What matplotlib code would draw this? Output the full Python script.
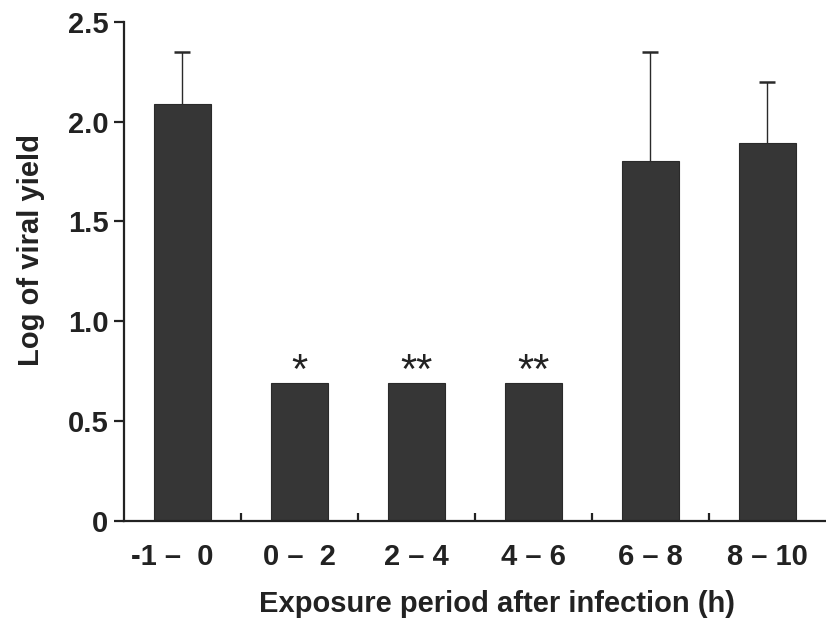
import matplotlib
matplotlib.use('Agg')
from matplotlib import pyplot as plt
from matplotlib.transforms import ScaledTranslation
import numpy as np

# data
periods = ['-1 \u2013  0', '0 \u2013  2', '2 \u2013 4', '4 \u2013 6', '6 \u2013 8', '8 \u2013 10']
log_yield = [2.09, 0.69, 0.69, 0.69, 1.80, 1.89]
err_upper = [0.26, 0.0, 0.0, 0.0, 0.55, 0.31]
marks = ['', '*', '**', '**', '', '']

plt.rcParams['font.family'] = ['Liberation Sans', 'DejaVu Sans']

fig = plt.figure(figsize=(8.26, 6.2), dpi=100)
ax = fig.add_axes([0.150, 0.160, 0.850, 0.805])

x = np.arange(len(periods))
ax.bar(x, log_yield, width=0.49, color='#363636', edgecolor='#2a2a2a', linewidth=0.8, zorder=2)

# upper error bars only
has_err = [i for i in x if err_upper[i] > 0]
eb = ax.errorbar([x[i] for i in has_err], [log_yield[i] for i in has_err],
                 yerr=[[0] * len(has_err), [err_upper[i] for i in has_err]],
                 fmt='none', ecolor='#2a2a2a', elinewidth=1.0, capsize=5.5, capthick=1.8, zorder=1)
eb[1][0].set_visible(False)

for i, m in enumerate(marks):
    if m:
        ax.text(x[i], log_yield[i] - 0.045, m, ha='center', va='bottom', fontsize=30,
                color='#222222')

ax.set_xlim(-0.5, 5.5)
ax.set_ylim(0, 2.5)
ax.set_yticks([0, 0.5, 1.0, 1.5, 2.0, 2.5])
ax.set_yticklabels(['0', '0.5', '1.0', '1.5', '2.0', '2.5'])
ax.set_xticks(x)
ax.set_xticklabels(periods)
ax.set_xticks(x[:-1] + 0.5, minor=True)

for s in ['top', 'right']:
    ax.spines[s].set_visible(False)
for s in ['left', 'bottom']:
    ax.spines[s].set_linewidth(1.6)
    ax.spines[s].set_color('#222222')

ax.tick_params(axis='y', direction='out', length=7, width=1.6, pad=4, labelsize=21, colors='#222222')
ax.tick_params(axis='x', which='major', length=0, pad=16, labelsize=21, labelcolor='#222222')
ax.tick_params(axis='x', which='minor', direction='in', length=6, width=1.6, color='#222222')
for lab in ax.get_xticklabels() + ax.get_yticklabels():
    lab.set_fontweight('bold')

# first label sits a little left of its bar in the original
first = ax.get_xticklabels()[0]
first.set_transform(first.get_transform() + ScaledTranslation(-0.1, 0, fig.dpi_scale_trans))

fig.text(0.0375, 1 - 250 / 620, 'Log of viral yield', rotation=90, ha='center', va='center',
         fontsize=21, fontweight='bold', color='#222222')
fig.text(0.602, 1 - 612 / 620, 'Exposure period after infection (h)', ha='center', va='baseline',
         fontsize=21, fontweight='bold', color='#222222')

fig.savefig('out.png', dpi=100, facecolor='white')
